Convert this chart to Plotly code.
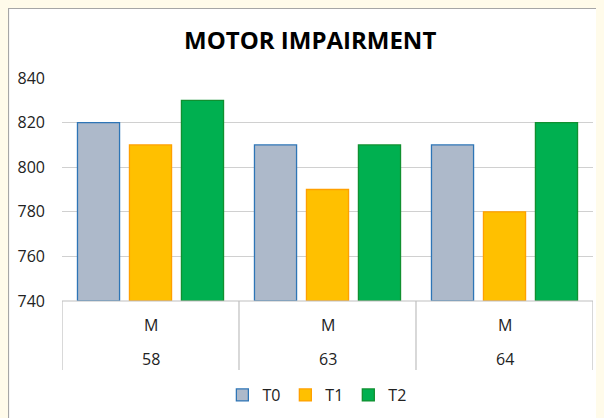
import plotly.graph_objects as go

groups = ["58", "63", "64"]
inner = ["M", "M", "M"]
series = ["T0", "T1", "T2"]
t0 = [820, 810, 810]
t1 = [810, 790, 780]
t2 = [830, 810, 820]
y_ticks = [740, 760, 780, 800, 820, 840]

fills = ["#ADB9CA", "#FFC000", "#00B050"]
lines = ["#2E75B6", "#FFA000", "#109030"]

fig = go.Figure()
for name, vals, fc, lc in zip(series, [t0, t1, t2], fills, lines):
    fig.add_trace(go.Bar(
        name=name, x=groups, y=[v - 740 for v in vals], base=740,
        marker=dict(color=fc, line=dict(color=lc, width=1.3)),
    ))

font = "Open Sans, Liberation Sans, Arial, sans-serif"
L, R, T, B = 54, 19, 70, 125
PW, PH = 604 - L - R, 418 - T - B
fig.update_layout(
    width=604, height=418,
    paper_bgcolor="white", plot_bgcolor="white",
    margin=dict(l=L, r=R, t=T, b=B, autoexpand=False),
    barmode="group", bargap=0.119, bargroupgap=0.19,
    showlegend=True,
    legend=dict(orientation="h", x=0.48, xanchor="center", y=-94 / PH, yanchor="middle",
                font=dict(family=font, size=16, color="#222"), itemwidth=30,
                traceorder="normal", bgcolor="rgba(0,0,0,0)"),
    font=dict(family=font, size=16, color="#222"),
    yaxis=dict(range=[740, 840], tickvals=y_ticks, showgrid=True, gridcolor="#D0D0D0",
               gridwidth=1, zeroline=False, showline=False, ticks="", ticklabelstandoff=16,
               tickfont=dict(size=16, color="#222")),
    xaxis=dict(type="category", showticklabels=False, showgrid=False, zeroline=False, showline=False,
               range=[-0.5, 2.5]),
)

# chart border
fig.add_shape(type="rect", xref="paper", yref="paper", x0=-L / PW + 0.5 / PW, x1=1 + (R + 10) / PW,
              y0=-(B + 10) / PH, y1=1 + (T - 0.5) / PH,
              fillcolor="rgba(0,0,0,0)", line=dict(color="#A6A6A6", width=1.2), layer="below")
# category axis line and dividers
fig.add_shape(type="line", xref="x", yref="paper", x0=-0.5, x1=2.5, y0=0, y1=0,
              line=dict(color="#BFBFBF", width=1.2))
for xb in [-0.5, 0.5, 1.5, 2.5]:
    fig.add_shape(type="line", xref="x", yref="paper", x0=xb, x1=xb, y0=0, y1=-69 / PH,
                  line=dict(color="#BFBFBF", width=1.2))
for i, (g, m) in enumerate(zip(groups, inner)):
    fig.add_annotation(x=i, y=-24 / PH, xref="x", yref="paper", text=m, showarrow=False,
                       font=dict(size=16, color="#222"), yanchor="middle")
    fig.add_annotation(x=i, y=-58 / PH, xref="x", yref="paper", text=g, showarrow=False,
                       font=dict(size=16, color="#222"), yanchor="middle")

fig.add_annotation(x=(301.5 - L) / PW, y=1 + 38 / PH, xref="paper", yref="paper",
                   text="<b>MOTOR IMPAIRMENT</b>", showarrow=False,
                   font=dict(size=24, color="black"), xanchor="center", yanchor="middle")

fig.write_html("out.html", post_script="document.body.style.background='#FFFBEA';")
